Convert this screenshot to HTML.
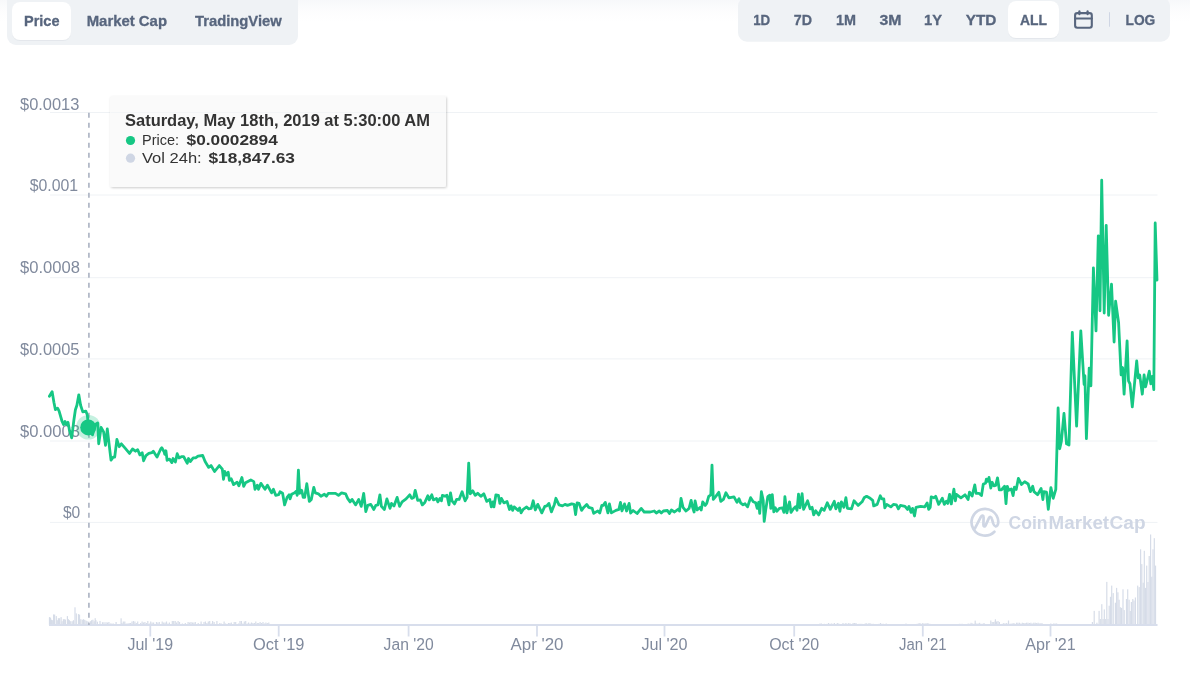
<!DOCTYPE html>
<html><head><meta charset="utf-8"><style>
html,body{margin:0;padding:0;background:#fff;width:1190px;height:674px;overflow:hidden}
svg{display:block;will-change:transform}
text{font-family:"Liberation Sans",sans-serif}
</style></head><body>
<svg width="1190" height="674" viewBox="0 0 1190 674">
<defs>
<linearGradient id="topg" x1="0" y1="0" x2="0" y2="1"><stop offset="0" stop-color="#f7f8fa" stop-opacity="1"/><stop offset="1" stop-color="#ffffff" stop-opacity="0"/></linearGradient>
<filter id="sh" x="-10%" y="-20%" width="120%" height="150%"><feDropShadow dx="0.8" dy="1" stdDeviation="1" flood-color="#000" flood-opacity="0.2"/></filter>
<filter id="bsh" x="-20%" y="-20%" width="140%" height="150%"><feDropShadow dx="0" dy="0.6" stdDeviation="0.6" flood-color="#58667e" flood-opacity="0.12"/></filter>
</defs>
<rect width="1190" height="674" fill="#fff"/>
<rect x="0" y="0" width="1190" height="25" fill="url(#topg)"/>
<!-- toolbars -->
<rect x="7" y="-12" width="291" height="57" rx="9" fill="#eff2f5"/>
<rect x="12" y="2" width="59" height="38" rx="8" fill="#fff" filter="url(#bsh)"/>
<g fill="#58667e" font-weight="bold" font-size="14.8" stroke="#58667e" stroke-width="0.3">
<text x="24" y="26" textLength="35.5" lengthAdjust="spacingAndGlyphs">Price</text>
<text x="86.7" y="26" textLength="80.3" lengthAdjust="spacingAndGlyphs">Market Cap</text>
<text x="195" y="26" textLength="86.7" lengthAdjust="spacingAndGlyphs">TradingView</text>
</g>
<rect x="738" y="-3" width="432" height="44.7" rx="9" fill="#eff2f5"/>
<rect x="1008" y="1" width="51" height="37" rx="8" fill="#fff" filter="url(#bsh)"/>
<g fill="#58667e" font-weight="bold" font-size="14.8" stroke="#58667e" stroke-width="0.3">
<text x="753.2" y="25.1" textLength="17" lengthAdjust="spacingAndGlyphs">1D</text>
<text x="793.8" y="25.1" textLength="18.2" lengthAdjust="spacingAndGlyphs">7D</text>
<text x="836" y="25.1" textLength="20" lengthAdjust="spacingAndGlyphs">1M</text>
<text x="879.4" y="25.1" textLength="22" lengthAdjust="spacingAndGlyphs">3M</text>
<text x="924" y="25.1" textLength="18" lengthAdjust="spacingAndGlyphs">1Y</text>
<text x="965.7" y="25.1" textLength="30.7" lengthAdjust="spacingAndGlyphs">YTD</text>
<text x="1020" y="25.1" textLength="27" lengthAdjust="spacingAndGlyphs">ALL</text>
<text x="1125.5" y="25.1" textLength="29.8" lengthAdjust="spacingAndGlyphs">LOG</text>
</g>
<g fill="none" stroke="#58667e" stroke-width="2.1" stroke-linecap="round">
<rect x="1075.1" y="13.1" width="16.7" height="14.7" rx="2.2"/>
<line x1="1075.1" y1="18.5" x2="1091.8" y2="18.5"/>
<line x1="1079.4" y1="11.3" x2="1079.4" y2="14.3"/>
<line x1="1087.6" y1="11.3" x2="1087.6" y2="14.3"/>
</g>
<rect x="1109" y="12.2" width="1" height="14.5" fill="#cfd6e4"/>
<!-- grid -->
<g stroke="#eff2f5" stroke-width="1"><line x1="50" y1="112.5" x2="1157.5" y2="112.5"/><line x1="50" y1="195" x2="1157.5" y2="195"/><line x1="50" y1="277.7" x2="1157.5" y2="277.7"/><line x1="50" y1="358.9" x2="1157.5" y2="358.9"/><line x1="50" y1="441" x2="1157.5" y2="441"/><line x1="50" y1="522.4" x2="1157.5" y2="522.4"/></g>
<g fill="#808a9d" font-size="16.3"><text x="20" y="109.7" textLength="59.4" lengthAdjust="spacingAndGlyphs">$0.0013</text><text x="29.7" y="190.9" textLength="48.5" lengthAdjust="spacingAndGlyphs">$0.001</text><text x="20" y="272.7" textLength="60" lengthAdjust="spacingAndGlyphs">$0.0008</text><text x="20" y="354.7" textLength="59.5" lengthAdjust="spacingAndGlyphs">$0.0005</text><text x="20" y="436.6" textLength="60" lengthAdjust="spacingAndGlyphs">$0.0003</text><text x="62.9" y="517.9" textLength="17.4" lengthAdjust="spacingAndGlyphs">$0</text></g>
<!-- watermark -->
<g opacity="1">
<path d="M994.4,531.7 A13.4,13.4 0 1 1 998.3,521.5 C998.3,525 997,526.5 995.5,526.3 C994.2,526.1 993.6,524.6 993.2,523.4 L991.9,518.8 C991.4,516.6 989.8,516.3 988.9,518.2 L985.6,525.4 C984.8,527.1 983.4,526.6 983.4,524.8 L983.6,517.5 C983.6,515.2 982,514.9 981,516.6 L974.8,528.6" fill="none" stroke="#cfd6e4" stroke-width="2.7" stroke-linecap="round" stroke-linejoin="round"/>
<g font-size="18" font-weight="bold" fill="#cfd6e4">
<text x="1008.6" y="529" textLength="39" lengthAdjust="spacingAndGlyphs">Coin</text>
<text x="1048.6" y="529" textLength="60.5" lengthAdjust="spacingAndGlyphs">Market</text>
<text x="1109.6" y="529" textLength="36" lengthAdjust="spacingAndGlyphs">Cap</text>
</g>
</g>
<!-- volume -->
<g fill="#cfd6e4" opacity="0.85"><rect x="48.9" y="617.1" width="1.2" height="7.9"/><rect x="49.9" y="617.6" width="1.2" height="7.4"/><rect x="50.9" y="619.7" width="1.2" height="5.3"/><rect x="51.7" y="620.2" width="1.2" height="4.8"/><rect x="53.0" y="614.4" width="1.2" height="10.6"/><rect x="54.0" y="614.6" width="1.2" height="10.4"/><rect x="55.7" y="616.1" width="1.2" height="8.9"/><rect x="56.7" y="620.2" width="1.2" height="4.8"/><rect x="57.8" y="618.2" width="1.2" height="6.8"/><rect x="59.0" y="618.2" width="1.2" height="6.8"/><rect x="60.5" y="617.1" width="1.2" height="7.9"/><rect x="61.5" y="621.2" width="1.2" height="3.8"/><rect x="62.8" y="619.2" width="1.2" height="5.8"/><rect x="64.1" y="619.2" width="1.2" height="5.8"/><rect x="64.8" y="619.7" width="1.2" height="5.3"/><rect x="66.8" y="616.1" width="1.2" height="8.9"/><rect x="67.8" y="619.2" width="1.2" height="5.8"/><rect x="68.8" y="620.2" width="1.2" height="4.8"/><rect x="70.1" y="621.2" width="1.2" height="3.8"/><rect x="71.6" y="621.2" width="1.2" height="3.8"/><rect x="72.9" y="620.2" width="1.2" height="4.8"/><rect x="74.4" y="607.3" width="1.2" height="17.7"/><rect x="75.7" y="613.4" width="1.2" height="11.6"/><rect x="77.9" y="614.1" width="1.2" height="10.9"/><rect x="78.9" y="614.6" width="1.2" height="10.4"/><rect x="80.2" y="619.2" width="1.2" height="5.8"/><rect x="81.7" y="619.7" width="1.2" height="5.3"/><rect x="83.0" y="619.2" width="1.2" height="5.8"/><rect x="84.2" y="619.9" width="1.2" height="5.1"/><rect x="85.5" y="620.7" width="1.2" height="4.3"/><rect x="86.5" y="621.2" width="1.2" height="3.8"/><rect x="88.0" y="621.7" width="1.2" height="3.3"/><rect x="89.8" y="621.2" width="1.2" height="3.8"/><rect x="91.0" y="620.2" width="1.2" height="4.8"/><rect x="92.3" y="619.7" width="1.2" height="5.3"/><rect x="93.6" y="621.2" width="1.2" height="3.8"/><rect x="94.6" y="618.2" width="1.2" height="6.8"/><rect x="95.3" y="620.2" width="1.2" height="4.8"/><rect x="96.8" y="621.7" width="1.2" height="3.3"/><rect x="99.4" y="620.9" width="1.2" height="4.1"/><rect x="101.9" y="622.2" width="1.2" height="2.8"/><rect x="103.4" y="622.2" width="1.2" height="2.8"/><rect x="105.4" y="622.2" width="1.2" height="2.8"/><rect x="106.9" y="622.5" width="1.2" height="2.5"/><rect x="108.3" y="622.0" width="1.2" height="3.0"/><rect x="109.8" y="623.5" width="1.2" height="1.5"/><rect x="111.2" y="623.5" width="1.2" height="1.5"/><rect x="112.7" y="623.5" width="1.2" height="1.5"/><rect x="114.1" y="624.2" width="1.2" height="0.8"/><rect x="115.5" y="622.0" width="1.2" height="3.0"/><rect x="117.0" y="624.2" width="1.2" height="0.8"/><rect x="118.4" y="624.2" width="1.2" height="0.8"/><rect x="119.9" y="624.2" width="1.2" height="0.8"/><rect x="121.3" y="623.0" width="1.2" height="2.0"/><rect x="122.7" y="621.5" width="1.2" height="3.5"/><rect x="124.2" y="621.5" width="1.2" height="3.5"/><rect x="125.6" y="623.5" width="1.2" height="1.5"/><rect x="127.1" y="623.5" width="1.2" height="1.5"/><rect x="128.5" y="623.0" width="1.2" height="2.0"/><rect x="129.9" y="623.0" width="1.2" height="2.0"/><rect x="131.4" y="621.5" width="1.2" height="3.5"/><rect x="132.8" y="621.0" width="1.2" height="4.0"/><rect x="134.3" y="621.5" width="1.2" height="3.5"/><rect x="135.7" y="623.0" width="1.2" height="2.0"/><rect x="137.1" y="621.5" width="1.2" height="3.5"/><rect x="138.6" y="624.2" width="1.2" height="0.8"/><rect x="140.0" y="623.0" width="1.2" height="2.0"/><rect x="141.5" y="621.5" width="1.2" height="3.5"/><rect x="142.9" y="622.5" width="1.2" height="2.5"/><rect x="144.3" y="622.0" width="1.2" height="3.0"/><rect x="145.8" y="623.0" width="1.2" height="2.0"/><rect x="147.2" y="621.0" width="1.2" height="4.0"/><rect x="148.7" y="623.5" width="1.2" height="1.5"/><rect x="150.1" y="621.5" width="1.2" height="3.5"/><rect x="151.5" y="622.5" width="1.2" height="2.5"/><rect x="153.0" y="622.5" width="1.2" height="2.5"/><rect x="154.4" y="624.2" width="1.2" height="0.8"/><rect x="155.9" y="622.0" width="1.2" height="3.0"/><rect x="157.3" y="622.5" width="1.2" height="2.5"/><rect x="158.7" y="622.0" width="1.2" height="3.0"/><rect x="160.2" y="624.2" width="1.2" height="0.8"/><rect x="161.6" y="621.5" width="1.2" height="3.5"/><rect x="163.1" y="622.5" width="1.2" height="2.5"/><rect x="164.5" y="622.5" width="1.2" height="2.5"/><rect x="165.9" y="621.5" width="1.2" height="3.5"/><rect x="167.4" y="623.5" width="1.2" height="1.5"/><rect x="168.8" y="622.5" width="1.2" height="2.5"/><rect x="170.3" y="624.2" width="1.2" height="0.8"/><rect x="171.7" y="621.0" width="1.2" height="4.0"/><rect x="173.1" y="621.0" width="1.2" height="4.0"/><rect x="174.6" y="621.0" width="1.2" height="4.0"/><rect x="176.0" y="622.5" width="1.2" height="2.5"/><rect x="177.5" y="621.0" width="1.2" height="4.0"/><rect x="178.9" y="622.0" width="1.2" height="3.0"/><rect x="180.3" y="624.2" width="1.2" height="0.8"/><rect x="181.8" y="623.5" width="1.2" height="1.5"/><rect x="183.2" y="624.2" width="1.2" height="0.8"/><rect x="184.7" y="623.0" width="1.2" height="2.0"/><rect x="186.1" y="624.2" width="1.2" height="0.8"/><rect x="187.5" y="622.0" width="1.2" height="3.0"/><rect x="189.0" y="622.5" width="1.2" height="2.5"/><rect x="190.4" y="622.0" width="1.2" height="3.0"/><rect x="191.9" y="622.5" width="1.2" height="2.5"/><rect x="193.3" y="622.5" width="1.2" height="2.5"/><rect x="194.7" y="622.0" width="1.2" height="3.0"/><rect x="196.2" y="624.2" width="1.2" height="0.8"/><rect x="197.6" y="623.0" width="1.2" height="2.0"/><rect x="199.1" y="624.2" width="1.2" height="0.8"/><rect x="200.5" y="621.5" width="1.2" height="3.5"/><rect x="201.9" y="624.2" width="1.2" height="0.8"/><rect x="203.4" y="622.0" width="1.2" height="3.0"/><rect x="204.8" y="621.5" width="1.2" height="3.5"/><rect x="206.3" y="623.0" width="1.2" height="2.0"/><rect x="207.7" y="621.5" width="1.2" height="3.5"/><rect x="209.1" y="621.0" width="1.2" height="4.0"/><rect x="210.6" y="623.5" width="1.2" height="1.5"/><rect x="212.0" y="621.0" width="1.2" height="4.0"/><rect x="213.5" y="622.0" width="1.2" height="3.0"/><rect x="214.9" y="624.2" width="1.2" height="0.8"/><rect x="216.3" y="621.0" width="1.2" height="4.0"/><rect x="217.8" y="624.2" width="1.2" height="0.8"/><rect x="219.2" y="623.0" width="1.2" height="2.0"/><rect x="220.7" y="623.5" width="1.2" height="1.5"/><rect x="222.1" y="624.2" width="1.2" height="0.8"/><rect x="223.5" y="621.5" width="1.2" height="3.5"/><rect x="225.0" y="623.5" width="1.2" height="1.5"/><rect x="226.4" y="624.2" width="1.2" height="0.8"/><rect x="227.9" y="623.0" width="1.2" height="2.0"/><rect x="229.3" y="623.0" width="1.2" height="2.0"/><rect x="230.7" y="622.5" width="1.2" height="2.5"/><rect x="232.2" y="624.2" width="1.2" height="0.8"/><rect x="233.6" y="622.0" width="1.2" height="3.0"/><rect x="235.1" y="622.0" width="1.2" height="3.0"/><rect x="236.5" y="624.2" width="1.2" height="0.8"/><rect x="237.9" y="623.5" width="1.2" height="1.5"/><rect x="239.4" y="621.0" width="1.2" height="4.0"/><rect x="240.8" y="621.0" width="1.2" height="4.0"/><rect x="242.3" y="623.5" width="1.2" height="1.5"/><rect x="243.7" y="621.5" width="1.2" height="3.5"/><rect x="245.1" y="621.0" width="1.2" height="4.0"/><rect x="246.6" y="623.5" width="1.2" height="1.5"/><rect x="248.0" y="622.5" width="1.2" height="2.5"/><rect x="249.5" y="623.5" width="1.2" height="1.5"/><rect x="250.9" y="622.5" width="1.2" height="2.5"/><rect x="252.3" y="623.0" width="1.2" height="2.0"/><rect x="253.8" y="623.0" width="1.2" height="2.0"/><rect x="255.2" y="621.5" width="1.2" height="3.5"/><rect x="256.7" y="623.0" width="1.2" height="2.0"/><rect x="258.1" y="623.0" width="1.2" height="2.0"/><rect x="259.5" y="622.0" width="1.2" height="3.0"/><rect x="261.0" y="623.0" width="1.2" height="2.0"/><rect x="262.4" y="622.0" width="1.2" height="3.0"/><rect x="263.9" y="623.5" width="1.2" height="1.5"/><rect x="265.3" y="622.5" width="1.2" height="2.5"/><rect x="266.7" y="623.0" width="1.2" height="2.0"/><rect x="268.2" y="622.5" width="1.2" height="2.5"/><rect x="120.5" y="618.3" width="1.2" height="6.7"/><rect x="819.4" y="623.5" width="1.2" height="1.5"/><rect x="820.8" y="623.5" width="1.2" height="1.5"/><rect x="822.3" y="624.2" width="1.2" height="0.8"/><rect x="823.7" y="623.8" width="1.2" height="1.2"/><rect x="825.2" y="624.2" width="1.2" height="0.8"/><rect x="826.6" y="623.8" width="1.2" height="1.2"/><rect x="828.0" y="623.0" width="1.2" height="2.0"/><rect x="829.5" y="623.8" width="1.2" height="1.2"/><rect x="830.9" y="623.5" width="1.2" height="1.5"/><rect x="832.4" y="623.8" width="1.2" height="1.2"/><rect x="833.8" y="623.0" width="1.2" height="2.0"/><rect x="835.2" y="624.2" width="1.2" height="0.8"/><rect x="836.7" y="623.0" width="1.2" height="2.0"/><rect x="838.1" y="623.5" width="1.2" height="1.5"/><rect x="839.6" y="624.2" width="1.2" height="0.8"/><rect x="841.0" y="624.2" width="1.2" height="0.8"/><rect x="842.4" y="623.0" width="1.2" height="2.0"/><rect x="843.9" y="623.8" width="1.2" height="1.2"/><rect x="845.3" y="623.0" width="1.2" height="2.0"/><rect x="846.8" y="623.8" width="1.2" height="1.2"/><rect x="848.2" y="623.0" width="1.2" height="2.0"/><rect x="849.6" y="623.5" width="1.2" height="1.5"/><rect x="851.1" y="624.2" width="1.2" height="0.8"/><rect x="852.5" y="623.0" width="1.2" height="2.0"/><rect x="854.0" y="623.0" width="1.2" height="2.0"/><rect x="855.4" y="623.0" width="1.2" height="2.0"/><rect x="856.8" y="624.2" width="1.2" height="0.8"/><rect x="858.3" y="623.8" width="1.2" height="1.2"/><rect x="859.7" y="623.8" width="1.2" height="1.2"/><rect x="861.2" y="623.8" width="1.2" height="1.2"/><rect x="862.6" y="624.2" width="1.2" height="0.8"/><rect x="864.0" y="623.8" width="1.2" height="1.2"/><rect x="865.5" y="623.0" width="1.2" height="2.0"/><rect x="866.9" y="623.8" width="1.2" height="1.2"/><rect x="868.4" y="623.0" width="1.2" height="2.0"/><rect x="869.8" y="623.5" width="1.2" height="1.5"/><rect x="871.2" y="623.8" width="1.2" height="1.2"/><rect x="872.7" y="623.8" width="1.2" height="1.2"/><rect x="874.1" y="624.2" width="1.2" height="0.8"/><rect x="875.6" y="624.2" width="1.2" height="0.8"/><rect x="877.0" y="624.2" width="1.2" height="0.8"/><rect x="878.4" y="623.8" width="1.2" height="1.2"/><rect x="879.9" y="623.0" width="1.2" height="2.0"/><rect x="881.3" y="623.8" width="1.2" height="1.2"/><rect x="882.8" y="623.8" width="1.2" height="1.2"/><rect x="884.2" y="624.2" width="1.2" height="0.8"/><rect x="885.6" y="623.5" width="1.2" height="1.5"/><rect x="916.4" y="623.8" width="1.2" height="1.2"/><rect x="917.8" y="623.5" width="1.2" height="1.5"/><rect x="919.3" y="623.0" width="1.2" height="2.0"/><rect x="920.7" y="623.8" width="1.2" height="1.2"/><rect x="922.2" y="623.0" width="1.2" height="2.0"/><rect x="923.6" y="623.5" width="1.2" height="1.5"/><rect x="925.0" y="623.5" width="1.2" height="1.5"/><rect x="926.5" y="623.0" width="1.2" height="2.0"/><rect x="927.9" y="623.5" width="1.2" height="1.5"/><rect x="929.4" y="623.8" width="1.2" height="1.2"/><rect x="957.4" y="624.0" width="1.2" height="1.0"/><rect x="958.8" y="623.8" width="1.2" height="1.2"/><rect x="960.3" y="623.8" width="1.2" height="1.2"/><rect x="961.7" y="623.8" width="1.2" height="1.2"/><rect x="963.2" y="624.0" width="1.2" height="1.0"/><rect x="967.6" y="623.5" width="1.2" height="1.5"/><rect x="969.0" y="623.8" width="1.2" height="1.2"/><rect x="970.5" y="622.8" width="1.2" height="2.2"/><rect x="971.9" y="623.5" width="1.2" height="1.5"/><rect x="973.4" y="623.8" width="1.2" height="1.2"/><rect x="974.8" y="623.5" width="1.2" height="1.5"/><rect x="976.2" y="623.5" width="1.2" height="1.5"/><rect x="977.7" y="623.5" width="1.2" height="1.5"/><rect x="979.1" y="622.8" width="1.2" height="2.2"/><rect x="980.6" y="623.8" width="1.2" height="1.2"/><rect x="982.0" y="623.8" width="1.2" height="1.2"/><rect x="983.4" y="623.0" width="1.2" height="2.0"/><rect x="990.2" y="620.5" width="1.2" height="4.5"/><rect x="991.6" y="622.0" width="1.2" height="3.0"/><rect x="993.1" y="622.0" width="1.2" height="3.0"/><rect x="994.5" y="621.5" width="1.2" height="3.5"/><rect x="996.0" y="621.5" width="1.2" height="3.5"/><rect x="997.4" y="621.0" width="1.2" height="4.0"/><rect x="998.8" y="622.0" width="1.2" height="3.0"/><rect x="1001.8" y="623.8" width="1.2" height="1.2"/><rect x="1003.2" y="623.0" width="1.2" height="2.0"/><rect x="1004.7" y="623.5" width="1.2" height="1.5"/><rect x="1006.1" y="623.0" width="1.2" height="2.0"/><rect x="1007.6" y="623.8" width="1.2" height="1.2"/><rect x="1009.0" y="623.8" width="1.2" height="1.2"/><rect x="1010.4" y="623.5" width="1.2" height="1.5"/><rect x="1011.9" y="623.5" width="1.2" height="1.5"/><rect x="1013.3" y="623.0" width="1.2" height="2.0"/><rect x="1015.9" y="622.7" width="1.2" height="2.3"/><rect x="1017.3" y="622.7" width="1.2" height="2.3"/><rect x="1018.8" y="622.7" width="1.2" height="2.3"/><rect x="1020.2" y="623.5" width="1.2" height="1.5"/><rect x="1021.7" y="622.7" width="1.2" height="2.3"/><rect x="1023.1" y="623.0" width="1.2" height="2.0"/><rect x="1024.5" y="623.0" width="1.2" height="2.0"/><rect x="1026.0" y="622.7" width="1.2" height="2.3"/><rect x="1027.4" y="622.7" width="1.2" height="2.3"/><rect x="1028.9" y="623.0" width="1.2" height="2.0"/><rect x="1030.3" y="622.7" width="1.2" height="2.3"/><rect x="1031.7" y="623.5" width="1.2" height="1.5"/><rect x="1033.2" y="622.7" width="1.2" height="2.3"/><rect x="1034.6" y="622.7" width="1.2" height="2.3"/><rect x="1036.1" y="623.0" width="1.2" height="2.0"/><rect x="1037.5" y="622.7" width="1.2" height="2.3"/><rect x="1038.9" y="623.5" width="1.2" height="1.5"/><rect x="1040.4" y="623.0" width="1.2" height="2.0"/><rect x="1041.8" y="623.5" width="1.2" height="1.5"/><rect x="1050.2" y="623.5" width="1.2" height="1.5"/><rect x="1051.6" y="624.0" width="1.2" height="1.0"/><rect x="1053.1" y="623.5" width="1.2" height="1.5"/><rect x="1054.5" y="623.5" width="1.2" height="1.5"/><rect x="1056.0" y="623.5" width="1.2" height="1.5"/><rect x="1057.4" y="624.0" width="1.2" height="1.0"/><rect x="1058.8" y="624.0" width="1.2" height="1.0"/><rect x="905.4" y="623.5" width="1.2" height="1.5"/><rect x="974.6" y="620.6" width="1.2" height="4.4"/><rect x="994.8" y="619.3" width="1.2" height="5.7"/><rect x="1007.9" y="620.5" width="1.2" height="4.5"/><rect x="1091.8" y="622.0" width="1.2" height="3.0"/><rect x="1093.6" y="610.9" width="1.2" height="14.1"/><rect x="1096.3" y="622.7" width="1.2" height="2.3"/><rect x="1098.5" y="610.9" width="1.2" height="14.1"/><rect x="1099.7" y="619.0" width="1.2" height="6.0"/><rect x="1101.2" y="604.2" width="1.2" height="20.8"/><rect x="1102.5" y="619.0" width="1.2" height="6.0"/><rect x="1103.7" y="609.4" width="1.2" height="15.6"/><rect x="1104.7" y="619.0" width="1.2" height="6.0"/><rect x="1106.2" y="581.9" width="1.2" height="43.1"/><rect x="1107.4" y="619.0" width="1.2" height="6.0"/><rect x="1108.6" y="605.7" width="1.2" height="19.3"/><rect x="1109.9" y="596.8" width="1.2" height="28.2"/><rect x="1111.1" y="585.6" width="1.2" height="39.4"/><rect x="1112.6" y="593.1" width="1.2" height="31.9"/><rect x="1114.8" y="602.7" width="1.2" height="22.3"/><rect x="1116.0" y="587.9" width="1.2" height="37.1"/><rect x="1117.3" y="592.3" width="1.2" height="32.7"/><rect x="1118.5" y="599.7" width="1.2" height="25.3"/><rect x="1119.7" y="607.2" width="1.2" height="17.8"/><rect x="1121.0" y="607.9" width="1.2" height="17.1"/><rect x="1122.4" y="589.3" width="1.2" height="35.7"/><rect x="1123.6" y="610.1" width="1.2" height="14.9"/><rect x="1125.9" y="599.0" width="1.2" height="26.0"/><rect x="1127.1" y="589.3" width="1.2" height="35.7"/><rect x="1128.5" y="599.7" width="1.2" height="25.3"/><rect x="1129.7" y="610.9" width="1.2" height="14.1"/><rect x="1130.8" y="602.0" width="1.2" height="23.0"/><rect x="1132.2" y="599.0" width="1.2" height="26.0"/><rect x="1133.4" y="600.5" width="1.2" height="24.5"/><rect x="1134.8" y="597.5" width="1.2" height="27.5"/><rect x="1137.1" y="585.6" width="1.2" height="39.4"/><rect x="1138.6" y="587.1" width="1.2" height="37.9"/><rect x="1140.0" y="549.3" width="1.2" height="75.7"/><rect x="1141.2" y="564.1" width="1.2" height="60.9"/><rect x="1142.6" y="582.7" width="1.2" height="42.3"/><rect x="1143.7" y="550.8" width="1.2" height="74.2"/><rect x="1144.9" y="587.9" width="1.2" height="37.1"/><rect x="1146.1" y="565.6" width="1.2" height="59.4"/><rect x="1147.4" y="582.0" width="1.2" height="43.0"/><rect x="1148.6" y="556.0" width="1.2" height="69.0"/><rect x="1150.0" y="534.5" width="1.2" height="90.5"/><rect x="1151.2" y="576.7" width="1.2" height="48.3"/><rect x="1152.4" y="549.3" width="1.2" height="75.7"/><rect x="1153.7" y="538.2" width="1.2" height="86.8"/><rect x="1154.9" y="565.6" width="1.2" height="59.4"/></g>
<rect x="49" y="624" width="1108.5" height="2" fill="#d8deec"/>
<g stroke="#d8deec" stroke-width="1.8"><line x1="150.3" y1="625" x2="150.3" y2="636.5"/><line x1="278.7" y1="625" x2="278.7" y2="636.5"/><line x1="408.6" y1="625" x2="408.6" y2="636.5"/><line x1="537" y1="625" x2="537" y2="636.5"/><line x1="664.5" y1="625" x2="664.5" y2="636.5"/><line x1="794.2" y1="625" x2="794.2" y2="636.5"/><line x1="922.8" y1="625" x2="922.8" y2="636.5"/><line x1="1050.5" y1="625" x2="1050.5" y2="636.5"/></g>
<g fill="#808a9d" font-size="16" text-anchor="middle"><text x="150.3" y="649.8" textLength="45.7" lengthAdjust="spacingAndGlyphs">Jul &#39;19</text><text x="278.7" y="649.8" textLength="51.4" lengthAdjust="spacingAndGlyphs">Oct &#39;19</text><text x="408.6" y="649.8" textLength="50" lengthAdjust="spacingAndGlyphs">Jan &#39;20</text><text x="537" y="649.8" textLength="53" lengthAdjust="spacingAndGlyphs">Apr &#39;20</text><text x="664.5" y="649.8" textLength="46.2" lengthAdjust="spacingAndGlyphs">Jul &#39;20</text><text x="794.2" y="649.8" textLength="50" lengthAdjust="spacingAndGlyphs">Oct &#39;20</text><text x="922.8" y="649.8" textLength="47.7" lengthAdjust="spacingAndGlyphs">Jan &#39;21</text><text x="1050.5" y="649.8" textLength="50.5" lengthAdjust="spacingAndGlyphs">Apr &#39;21</text></g>
<!-- dashed line -->
<line x1="88.9" y1="112.7" x2="88.9" y2="625" stroke="#b3bac8" stroke-width="1.8" stroke-dasharray="5 5"/>
<!-- price line -->
<polyline points="49.4,396.3 52.1,391.6 53.9,402.2 55.4,409.7 57.6,408.2 59.1,411.1 62.1,421.5 63.5,424.5 65,421.5 66.5,424.5 68,422.3 69.5,430.4 71.7,437.8 73.9,420 75.4,409.7 76.9,405.2 78.8,394.8 80.6,405.2 82.8,411.9 85.8,411.1 87.3,414.9 88.5,427 92.5,434.9 95.4,424.5 97.7,423 98.7,443.8 101.1,427.5 103.6,431.9 105.5,445.3 107.3,429 111,460.1 113.2,457.1 114.7,457.1 116.9,439.3 119.2,446.7 121.4,443.8 125.1,448.2 129.5,453.4 132.5,449 135.5,451.2 137.7,449.7 139.9,454.9 142.2,452.7 143.6,460.8 145.9,455.6 148.8,453.4 151.8,452.7 153.3,451.2 157,457.1 160.7,449 161.8,447.8 164.2,452 164.7,454.3 165.9,450.8 167.1,460.3 169.5,459.1 171.9,462.6 173.1,458.5 175.4,462 177.2,453.7 179,457.9 181.4,456.7 183.7,456.7 187.3,463.2 188.5,458.5 190.3,461.5 193.2,457.9 195.6,457.9 198,456.1 202.7,455.5 205.1,461.5 208.7,467.4 211,465.6 214.6,471.5 219.3,465.6 222.3,469.2 223.5,479.3 224.7,471.5 226.5,475.1 228.2,472.1 229.4,480.4 231.2,478.7 233.6,484.6 237.1,482.2 238.9,485.8 241.9,477.5 243.7,486.4 245.5,482.8 250.8,479.9 253.8,481.6 255,489.3 257.3,485.2 258.5,489.3 260.9,483.4 265,489.3 267.4,485.2 271.6,492.9 273.4,489.3 275.7,495.3 278.7,494.7 280,491.8 282.6,493.3 284.6,504.9 287.1,497.4 289.1,494.8 290.1,498.9 291.6,494.3 294.7,492.8 296.2,491.3 297.2,495.3 298.4,470.1 299.7,493.3 301.7,490.3 303.2,497.4 304.7,497.4 306.8,483.7 309.3,501.4 311.3,499.4 313.8,487.3 315.3,492.8 318.4,493.8 320.9,496.3 324.4,494.3 326.4,496.3 328.4,493.3 335.5,493.3 338.5,495.3 341.6,492.8 345.6,493.8 347.6,498.4 350.1,501.9 352.1,499.4 355.7,504.9 358.7,499.4 361.2,506.4 363.7,493.3 365.8,511.5 367.8,505.4 370.8,504.4 373.8,509.5 375.8,505.4 377.9,504.9 379.9,494.8 381.4,506.4 384.4,509.5 386.9,498.9 390,508.4 391.5,503.4 394,505.9 397.1,497.4 399.6,506.4 402.1,501.9 406.1,498.9 409.7,494.8 411.7,498.4 413.7,497.4 415.2,490.3 417.7,500.4 420.3,499.9 422.3,504.9 424.8,502.4 427.8,495.8 429.3,499.9 431.8,494.8 433.4,499.9 436.4,498.4 437.9,501.9 439.9,498.4 441.4,500.9 442.4,495.3 445,496.3 447,495.3 449,504.9 450.5,492.8 452,500.9 454.5,503.9 456.6,499.4 459.1,499.4 462.1,491.8 465.1,500.9 467.1,497.4 468.7,463.1 470.2,493.8 472.7,490.8 475.2,495.3 477.7,493.3 480.8,496.3 483.8,493.8 486.8,501.4 489.8,499.4 491.3,506.9 492.9,501.9 493.9,506.9 495.9,494.8 498.4,495.3 499.9,503.4 501.4,498.4 503.9,502.9 507,501.4 509.5,509.5 511.1,505.9 512.6,510.4 514.1,506.9 518.1,510.4 519.6,507.9 521.1,512.9 523.2,509.4 526.7,506.9 528.7,508.9 531.2,508.4 533.2,500.8 535.3,510 537.8,504.4 541.8,512.9 544.8,506.4 546.8,505.9 548.9,503.4 551.4,511.9 554.4,504.4 555.9,498.3 559,504.9 562.5,505.9 565,504.4 567.5,505.4 571.6,503.9 574.1,504.4 575.6,514.5 577.1,502.9 579.1,503.4 581.6,510.4 583.7,507.4 586.7,504.4 588.7,507.4 592.2,508.4 593.7,513.4 597.8,510.9 599.8,512.9 601.8,505.4 603.3,505.4 605.3,502.4 607.9,512.9 609.4,503.9 611.4,512.9 615.9,510.4 618.9,509.4 620.5,502.4 622,510.9 624.5,503.9 626.6,511 629.1,503.4 630.6,513 633.1,510.5 637.1,513.5 641.2,508.4 644.2,512 650.3,512 654.3,511 656.3,513 659.3,511 661.3,513 663.4,511 667.4,510.5 669.4,513.5 671.4,510 674.5,512 678.5,509 679.5,511 681,498.4 683,507.4 686,511 689.1,508.4 691.1,500.4 692.6,507.4 694.1,512 695.1,500.9 697.1,510 700.2,507.4 701.2,510 702.7,501.9 705.2,505.4 706.7,503.4 708.7,496.3 710.8,494.8 712,465.1 713.3,499.4 715.8,496.3 718.8,492.3 720.8,501.4 723.4,499.4 725.9,492.8 728.9,497.9 734,496.8 737,502.3 739,498.7 740.5,502.8 743.1,504.8 745.1,503.8 747.6,506.8 750.6,497.7 753.2,501.8 755.7,502.8 757.2,508.3 758.7,502.3 759.7,513.4 761.4,491.7 763.2,500.3 764.2,521.4 765.8,509.3 767.8,496.7 769.8,495.2 770.8,508.3 772.3,494.7 773.8,511.8 775.3,507.8 776.8,511.3 779.4,508.3 782.4,507.8 783.9,512.4 784.9,496.7 786.9,512.9 789.5,501.8 791,512.4 793.5,508.8 795.5,506.8 797,510.3 798.5,494.2 800,507.8 802.1,493.7 803.6,509.3 807.6,500.8 810.1,508.8 812.1,507.3 813.7,514.9 815.7,510.8 818.7,514.9 821.7,508.3 824.2,510.3 827.3,502.8 830.3,509.3 834.3,501.3 835.8,508.8 838.4,503.3 839.9,511.3 841.4,501.8 843.9,507.3 845.9,497.7 847.4,508.3 851.5,508.8 854,500.8 858.1,505.4 862.1,501.8 864.1,497.8 866.6,496.3 870.2,498.3 872.7,500.3 873.7,505.9 877.2,504.4 880.3,495.8 881.8,498.8 883.8,498.8 884.8,507.9 886.8,504.4 890.8,506.9 893.4,504.4 896.4,504.9 898.4,508.9 900.4,505.4 905,506.4 907.5,509.4 909,506.4 911,512.4 912.5,508.4 914.5,516 916,507.4 920.6,506.4 924.6,506.9 927.1,502.9 928.7,509.4 930.2,507.4 931.2,496.8 933.7,497.8 935.7,496.3 938.7,504.4 942.3,498.3 944.3,504.4 946.3,501.3 947.8,503.4 949.6,494.3 951.3,503.9 953.9,489.2 955.4,500.8 956.4,494.3 960.9,497.8 965,494.8 968.1,499.6 969.5,492.1 972.1,496.1 974.8,484.9 976.1,493.4 979.2,493.4 981.5,495.6 983.3,484 985.5,483.2 986.4,479.1 987.7,481.4 989,477.4 990.8,488 992.2,482.3 993.9,485.8 995.7,485.4 997.5,477.8 999.3,489.8 1001.5,489.8 1004.6,486.3 1006,503.6 1007.3,486.3 1008.6,490.3 1011.3,488.9 1013.1,495.6 1014.4,487.2 1016.2,489.4 1018.4,478.3 1021.5,484.5 1024.7,481.8 1028.2,484 1030.4,491.6 1032.7,486.3 1034,491.6 1037.6,494.7 1041.1,488.5 1042.9,499.6 1043.8,491.6 1046.5,492.1 1048.3,509.4 1050.9,487.6 1053.2,498.3 1055.8,489.4 1058.1,408 1059.7,448.8 1061.4,441.2 1064,413.5 1066.5,443.8 1069,445 1072.3,332.3 1076.6,426.1 1080.8,330.8 1084.1,384.5 1084.9,375.7 1086.4,438.7 1089.2,368.1 1090.9,385.8 1093.4,267.8 1096,330.9 1098.3,235.8 1100,310.8 1101.7,180.2 1104.2,313 1106.2,225.4 1108.6,315.3 1111.5,284.1 1114.1,342 1115.6,301.2 1118.6,322.7 1121.1,374.9 1122.6,367.5 1124.1,394.2 1127.1,340.8 1128.5,380.8 1130,383.8 1132.3,406.8 1136.7,360.8 1138.2,377.9 1139.7,374.9 1142.3,394.2 1144.1,374.9 1145.6,386.8 1149.3,371.2 1150.8,383.8 1152.3,376.4 1153.8,389.7 1155.2,223 1157,280" fill="none" stroke="#16c784" stroke-width="2.8" stroke-linejoin="round" stroke-linecap="round"/>
<circle cx="88.4" cy="427.2" r="12.3" fill="#16c784" opacity="0.25"/>
<circle cx="88.2" cy="427.4" r="8" fill="#16c784"/>
<!-- tooltip -->
<rect x="110" y="96" width="336" height="91" rx="2" fill="#fafafa" filter="url(#sh)"/>
<line x1="110.5" y1="112.5" x2="445.5" y2="112.5" stroke="#eef1f5" stroke-opacity="0.6"/>
<text x="125" y="126" font-size="16" font-weight="bold" fill="#333" textLength="305" lengthAdjust="spacingAndGlyphs">Saturday, May 18th, 2019 at 5:30:00 AM</text>
<circle cx="130.5" cy="140.5" r="4.6" fill="#16c784"/>
<circle cx="130.5" cy="158.2" r="4.6" fill="#cfd6e4"/>
<g font-size="15.3" fill="#333">
<text x="142" y="144.6" textLength="37" lengthAdjust="spacingAndGlyphs">Price:</text>
<text x="186.6" y="144.6" font-weight="bold" textLength="91.2" lengthAdjust="spacingAndGlyphs">$0.0002894</text>
<text x="142" y="162.6" textLength="59.7" lengthAdjust="spacingAndGlyphs">Vol 24h:</text>
<text x="208.4" y="162.6" font-weight="bold" textLength="86.6" lengthAdjust="spacingAndGlyphs">$18,847.63</text>
</g>
</svg>
</body></html>
